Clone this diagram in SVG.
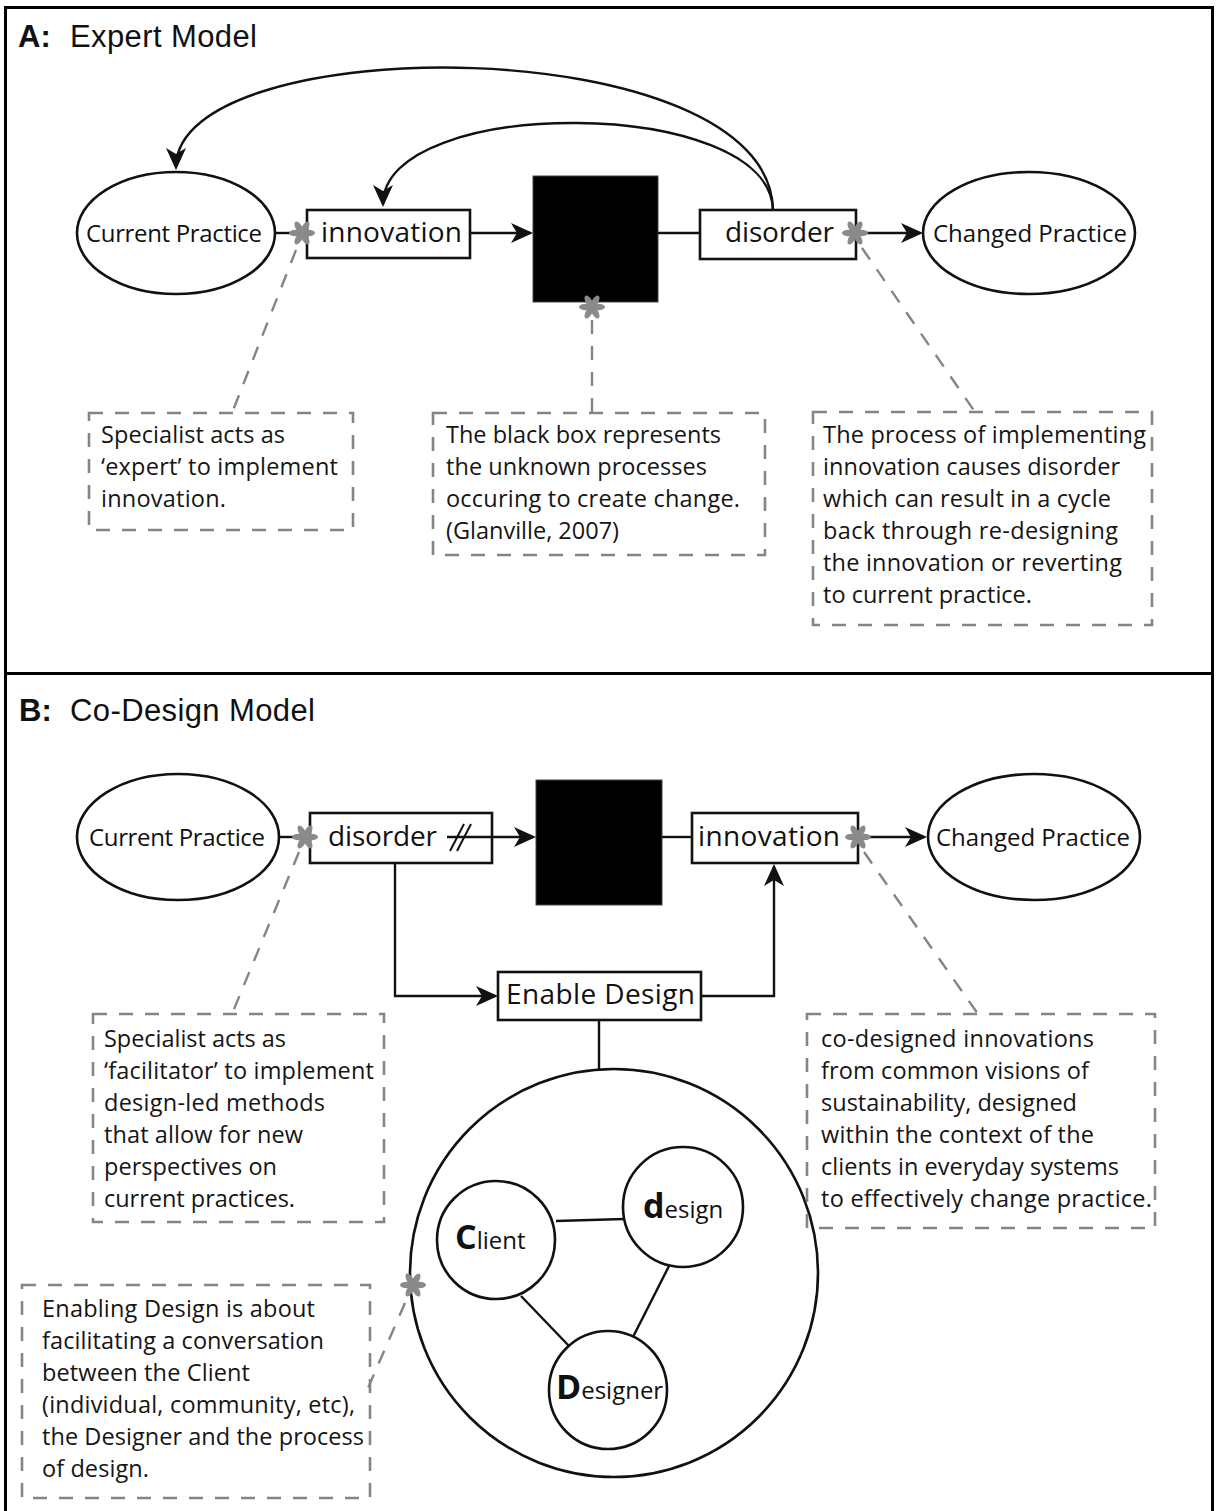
<svg xmlns="http://www.w3.org/2000/svg" xmlns:xlink="http://www.w3.org/1999/xlink" width="1216" height="1511" viewBox="0 0 1216 1511">
  <style>
    .frame { fill: none; stroke: #000; stroke-width: 3; }
    .title { font-family: "Liberation Sans", Arial, sans-serif; font-size: 31px; fill: #111; }
    .title-key { font-weight: bold; }
    .node { fill: #fff; stroke: #111; stroke-width: 2.6; }
    .ring { fill: none; stroke: #111; stroke-width: 2.6; }
    .black { fill: #000; stroke: #444; stroke-width: 1; }
    .lbl { font-family: "Open Sans", "Noto Sans", sans-serif; fill: #111; }
    .lbl-sm { font-size: 24px; }
    .lbl-lg { font-size: 28px; }
    .para { font-family: "Open Sans", "Noto Sans", sans-serif; font-size: 23.5px; fill: #151515; }
    .big { font-weight: bold; font-size: 34px; }
    .wire { fill: none; stroke: #111; stroke-width: 2.4; }
    .arrow { marker-end: url(#ah); }
    .note { fill: none; stroke: #858585; stroke-width: 2.6; stroke-dasharray: 14 12; }
    .leader { fill: none; stroke: #858585; stroke-width: 2.4; stroke-dasharray: 14 12; }
    .ast ellipse { fill: #8a8a8a; }
  </style>
  <defs>
    <marker id="ah" viewBox="-24 -11 28 22" refX="-3" refY="0" markerWidth="28" markerHeight="22" markerUnits="userSpaceOnUse" orient="auto">
      <path d="M0,0 L-22,-10 L-16,0 L-22,10 Z" fill="#111"/>
    </marker>
    <!-- six-petal asterisk used as a note anchor -->
    <g id="ast" class="ast">
      <ellipse cx="6.5" cy="0" rx="6.5" ry="3.2"/>
      <ellipse cx="6.5" cy="0" rx="6.5" ry="3.2" transform="rotate(60)"/>
      <ellipse cx="6.5" cy="0" rx="6.5" ry="3.2" transform="rotate(120)"/>
      <ellipse cx="6.5" cy="0" rx="6.5" ry="3.2" transform="rotate(180)"/>
      <ellipse cx="6.5" cy="0" rx="6.5" ry="3.2" transform="rotate(240)"/>
      <ellipse cx="6.5" cy="0" rx="6.5" ry="3.2" transform="rotate(300)"/>
    </g>
  </defs>

  <rect width="1216" height="1511" fill="#fff"/>

  <!-- outer frame and panel divider -->
  <g id="frame">
    <rect class="frame" x="5.5" y="7.5" width="1207" height="1515"/>
    <line class="frame" x1="5" y1="673.5" x2="1213" y2="673.5"/>
  </g>

  <!-- panel titles -->
  <g id="title-a">
    <text class="title title-key" x="18" y="47">A:</text>
    <text class="title" x="70" y="47" textLength="187">Expert Model</text>
  </g>
  <g id="title-b">
    <text class="title title-key" x="19" y="721">B:</text>
    <text class="title" x="70" y="721" textLength="245">Co-Design Model</text>
  </g>

  <!-- panel A nodes -->
  <g id="a-current-practice">
    <ellipse class="node" cx="176" cy="233" rx="99" ry="61"/>
    <text class="lbl lbl-sm" x="86" y="242" textLength="176">Current Practice</text>
  </g>
  <g id="a-innovation">
    <rect class="node" x="307" y="210" width="163" height="48"/>
    <text class="lbl lbl-lg" x="321" y="242" textLength="141">innovation</text>
  </g>
  <g id="a-black-box">
    <rect class="black" x="533" y="176" width="125" height="126"/>
  </g>
  <g id="a-disorder">
    <rect class="node" x="700" y="210" width="156" height="49"/>
    <text class="lbl lbl-lg" x="725" y="242" textLength="109">disorder</text>
  </g>
  <g id="a-changed-practice">
    <ellipse class="node" cx="1029" cy="233" rx="106" ry="61"/>
    <text class="lbl lbl-sm" x="933" y="242" textLength="194">Changed Practice</text>
  </g>

  <!-- panel B nodes -->
  <g id="b-current-practice">
    <ellipse class="node" cx="178" cy="837" rx="101" ry="63"/>
    <text class="lbl lbl-sm" x="89" y="846" textLength="176">Current Practice</text>
  </g>
  <g id="b-disorder">
    <rect class="node" x="310" y="813" width="182" height="50"/>
    <text class="lbl lbl-lg" x="328" y="846" textLength="109">disorder</text>
  </g>
  <g id="b-black-box">
    <rect class="black" x="536" y="780" width="126" height="125"/>
  </g>
  <g id="b-innovation">
    <rect class="node" x="692" y="813" width="166" height="50"/>
    <text class="lbl lbl-lg" x="698" y="846" textLength="142">innovation</text>
  </g>
  <g id="b-changed-practice">
    <ellipse class="node" cx="1034" cy="837" rx="106" ry="63"/>
    <text class="lbl lbl-sm" x="936" y="846" textLength="194">Changed Practice</text>
  </g>
  <g id="b-enable-design">
    <rect class="node" x="498" y="972" width="203" height="48"/>
    <text class="lbl lbl-lg" x="506" y="1004" textLength="189">Enable Design</text>
  </g>
  <g id="b-conversation">
    <circle class="ring" cx="614" cy="1273" r="204"/>
  </g>

  <!-- connectors -->
  <g id="connectors">
    <!-- panel A -->
    <line class="wire" x1="275" y1="233" x2="307" y2="233"/>
    <line class="wire arrow" x1="470" y1="233" x2="530" y2="233"/>
    <line class="wire" x1="658" y1="233" x2="700" y2="233"/>
    <line class="wire arrow" x1="856" y1="233" x2="920" y2="233"/>
    <path class="wire arrow" d="M773,210 C770,28 176,28 176,167"/>
    <path class="wire arrow" d="M773,210 C770,95 383,95 383,204"/>
    <!-- panel B -->
    <line class="wire" x1="279" y1="837" x2="310" y2="837"/>
    <line class="wire arrow" x1="447" y1="837" x2="533" y2="837"/>
    <line class="wire" x1="450" y1="851" x2="464" y2="824" style="stroke-width:2"/>
    <line class="wire" x1="457" y1="851" x2="471" y2="824" style="stroke-width:2"/>
    <line class="wire" x1="662" y1="837" x2="692" y2="837"/>
    <line class="wire arrow" x1="858" y1="837" x2="924" y2="837"/>
    <polyline class="wire arrow" points="395,863 395,996 495,996"/>
    <polyline class="wire arrow" points="701,996 774,996 774,867"/>
    <line class="wire" x1="599" y1="1020" x2="599" y2="1070"/>
    <line class="wire" x1="556" y1="1221" x2="624" y2="1219"/>
    <line class="wire" x1="521" y1="1296" x2="569" y2="1346"/>
    <line class="wire" x1="669" y1="1266" x2="633" y2="1337"/>
  </g>

  <!-- conversation members -->
  <g id="b-client">
    <circle class="node" cx="496" cy="1240" r="59"/>
    <text class="lbl" x="455" y="1249"><tspan class="big">C</tspan><tspan font-size="24">lient</tspan></text>
  </g>
  <g id="b-design">
    <circle class="node" cx="683" cy="1207" r="60"/>
    <text class="lbl" x="643" y="1218"><tspan class="big">d</tspan><tspan font-size="24">esign</tspan></text>
  </g>
  <g id="b-designer">
    <circle class="node" cx="608" cy="1390" r="59"/>
    <text class="lbl" x="556" y="1399"><tspan class="big">D</tspan><tspan font-size="24">esigner</tspan></text>
  </g>

  <!-- panel A notes -->
  <g id="a-note-expert">
    <line class="leader" x1="296" y1="250" x2="232" y2="413"/>
    <rect class="note" x="89" y="413" width="264" height="117"/>
    <text class="para" x="101" y="443" textLength="184">Specialist acts as</text>
    <text class="para" x="101" y="475" textLength="237">‘expert’ to implement</text>
    <text class="para" x="101" y="507" textLength="125">innovation.</text>
  </g>
  <g id="a-note-blackbox">
    <line class="leader" x1="592" y1="320" x2="592" y2="413"/>
    <rect class="note" x="433" y="413" width="332" height="142"/>
    <text class="para" x="446" y="443" textLength="275">The black box represents</text>
    <text class="para" x="446" y="475" textLength="261">the unknown processes</text>
    <text class="para" x="446" y="507" textLength="294">occuring to create change.</text>
    <text class="para" x="446" y="539" textLength="173">(Glanville, 2007)</text>
  </g>
  <g id="a-note-disorder">
    <line class="leader" x1="862" y1="248" x2="975" y2="412"/>
    <rect class="note" x="813" y="412" width="339" height="213"/>
    <text class="para" x="823" y="443" textLength="323">The process of implementing</text>
    <text class="para" x="823" y="475" textLength="297">innovation causes disorder</text>
    <text class="para" x="823" y="507" textLength="288">which can result in a cycle</text>
    <text class="para" x="823" y="539" textLength="295">back through re-designing</text>
    <text class="para" x="823" y="571" textLength="299">the innovation or reverting</text>
    <text class="para" x="823" y="603" textLength="209">to current practice.</text>
  </g>
  <g id="a-markers">
    <use xlink:href="#ast" x="302" y="233"/>
    <use xlink:href="#ast" x="592" y="307"/>
    <use xlink:href="#ast" x="855" y="233"/>
  </g>

  <!-- panel B notes -->
  <g id="b-note-facilitator">
    <line class="leader" x1="299" y1="852" x2="232" y2="1014"/>
    <rect class="note" x="93" y="1014" width="291" height="208"/>
    <text class="para" x="104" y="1047" textLength="182">Specialist acts as</text>
    <text class="para" x="104" y="1079" textLength="270">‘facilitator’ to implement</text>
    <text class="para" x="104" y="1111" textLength="221">design-led methods</text>
    <text class="para" x="104" y="1143" textLength="199">that allow for new</text>
    <text class="para" x="104" y="1175" textLength="173">perspectives on</text>
    <text class="para" x="104" y="1207" textLength="191">current practices.</text>
  </g>
  <g id="b-note-codesign">
    <line class="leader" x1="864" y1="852" x2="978" y2="1014"/>
    <rect class="note" x="807" y="1014" width="348" height="214"/>
    <text class="para" x="821" y="1047" textLength="273">co-designed innovations</text>
    <text class="para" x="821" y="1079" textLength="268">from common visions of</text>
    <text class="para" x="821" y="1111" textLength="256">sustainability, designed</text>
    <text class="para" x="821" y="1143" textLength="273">within the context of the</text>
    <text class="para" x="821" y="1175" textLength="298">clients in everyday systems</text>
    <text class="para" x="821" y="1207" textLength="331">to effectively change practice.</text>
  </g>
  <g id="b-note-enabling">
    <line class="leader" x1="405" y1="1303" x2="368" y2="1388"/>
    <rect class="note" x="22" y="1285" width="348" height="213"/>
    <text class="para" x="42" y="1317" textLength="273">Enabling Design is about</text>
    <text class="para" x="42" y="1349" textLength="282">facilitating a conversation</text>
    <text class="para" x="42" y="1381" textLength="208">between the Client</text>
    <text class="para" x="42" y="1413" textLength="313">(individual, community, etc),</text>
    <text class="para" x="42" y="1445" textLength="322">the Designer and the process</text>
    <text class="para" x="42" y="1477" textLength="107">of design.</text>
  </g>
  <g id="b-markers">
    <use xlink:href="#ast" x="305" y="837"/>
    <use xlink:href="#ast" x="858" y="837"/>
    <use xlink:href="#ast" x="413" y="1285"/>
  </g>
</svg>
